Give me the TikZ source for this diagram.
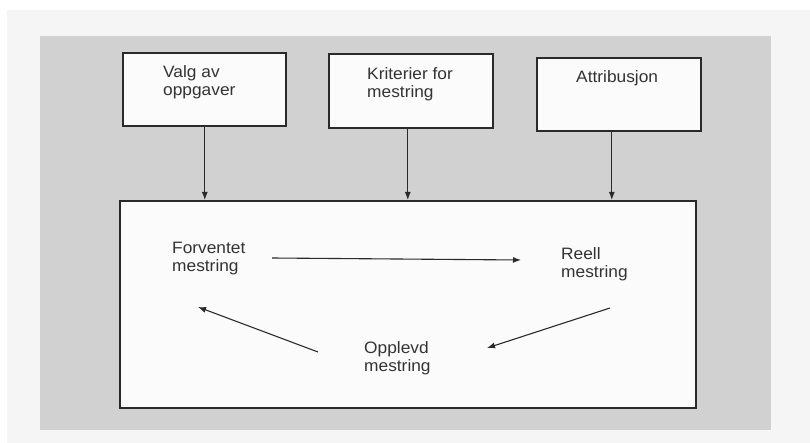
\documentclass[tikz,border=0pt]{standalone}
\usepackage{fontspec}
\setmainfont{Liberation Sans}[FakeStretch=1.05]
\usetikzlibrary{arrows.meta}
\definecolor{pagebg}{HTML}{F5F5F5}
\definecolor{panel}{HTML}{D1D1D1}
\definecolor{boxfill}{HTML}{FBFBFB}
\definecolor{boxline}{HTML}{2A2A2A}
\definecolor{txt}{HTML}{333333}
\begin{document}
\begin{tikzpicture}[x=1pt,y=-1pt,
  box/.style={draw=boxline,line width=1.6pt,fill=boxfill,inner sep=0pt,anchor=north west},
  lbl/.style={anchor=base west,inner sep=0pt,align=left,text=txt,font=\fontsize{16.5}{18}\selectfont},
  arr/.style={draw=boxline,line width=1.1pt,-{Latex[length=8pt,width=6pt]}}]
% page and panel
\useasboundingbox (0,0) rectangle (810,443);
\fill[white] (0,0) rectangle (810,443);
\fill[pagebg] (7,10) rectangle (810,443);
\fill[panel] (40,36) rectangle (771,430);
% top boxes
\node[box,minimum width=163pt,minimum height=73pt] (b1) at (122,52) {};
\node[box,minimum width=164pt,minimum height=74pt] (b2) at (328,53) {};
\node[box,minimum width=164pt,minimum height=73pt] (b3) at (536,57) {};
% big box
\node[box,minimum width=576pt,minimum height=207pt] (big) at (119,200) {};
% texts (anchor = baseline of the last line)
\node[lbl] (t1) at (163,96) {Valg av\\oppgaver};
\node[lbl] (t2) at (367,98) {Kriterier for\\mestring};
\node[lbl] (t3) at (576,83) {Attribusjon};
\node[lbl] (fm) at (172,272) {Forventet\\mestring};
\node[lbl] (rm) at (561,278) {Reell\\mestring};
\node[lbl] (om) at (364,371) {Opplevd\\mestring};
% vertical arrows
\draw[arr] ([xshift=0.5pt]b1.south) -- ([xshift=0.5pt]b1.south |- big.north);
\draw[arr] ([xshift=-3pt]b2.south) -- ([xshift=-3pt]b2.south |- big.north);
\draw[arr] ([xshift=-7pt]b3.south) -- ([xshift=-7pt]b3.south |- big.north);
% cycle arrows
\coordinate (fmR) at (272,258);
\coordinate (rmL) at (521,260);
\coordinate (rmB) at (610,308);
\coordinate (omR) at (487,348);
\coordinate (omL) at (318,352);
\coordinate (fmB) at (198,307);
\draw[arr] (fmR) -- (rmL);
\draw[arr] (rmB) -- (omR);
\draw[arr] (omL) -- (fmB);
\end{tikzpicture}
\end{document}
